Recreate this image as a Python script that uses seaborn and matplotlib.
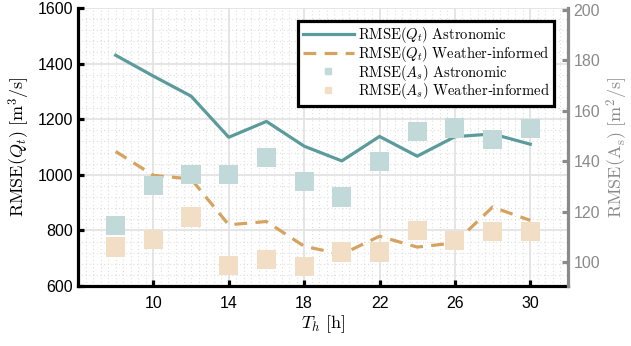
import matplotlib
matplotlib.use("Agg")
import matplotlib.pyplot as plt
from matplotlib.ticker import MultipleLocator
from matplotlib.lines import Line2D
import seaborn as sns
import pandas as pd

# ---- data ----
th = [8, 10, 12, 14, 16, 18, 20, 22, 24, 26, 28, 30]
q_astro = [1430, 1355, 1283, 1135, 1192, 1103, 1050, 1138, 1067, 1137, 1147, 1110]
q_weather = [1084, 998, 985, 820, 832, 743, 714, 779, 740, 755, 884, 836]
a_astro = [114.6, 130.5, 134.8, 134.8, 141.5, 131.8, 125.8, 140.0, 151.7, 153.2, 148.6, 153.0]
a_weather = [106.0, 109.0, 117.9, 98.7, 101.0, 98.4, 104.0, 104.0, 112.6, 108.6, 112.2, 112.2]
x_ticks = [10, 14, 18, 22, 26, 30]
yl_ticks = [600, 800, 1000, 1200, 1400, 1600]
yr_ticks = [100, 120, 140, 160, 180, 200]

df = pd.DataFrame({"th": th, "qa": q_astro, "qw": q_weather, "aa": a_astro, "aw": a_weather})

teal = "#5B9B9B"
tan = "#D5A35F"
teal_l = "#C2D9DA"
tan_l = "#F1DEC5"
gray = "#8A8A8A"

plt.rcParams["mathtext.fontset"] = "cm"
plt.rcParams["font.family"] = ["Liberation Sans", "DejaVu Sans"]

fig = plt.figure(figsize=(6.31, 3.46), dpi=100)
ax = fig.add_axes([0.1236, 0.1734, 0.7765, 0.8035])
ax2 = ax.twinx()

sns.lineplot(data=df, x="th", y="qa", ax=ax, color=teal, lw=2.3, zorder=3)
sns.lineplot(data=df, x="th", y="qw", ax=ax, color=tan, lw=2.3, dashes=False, zorder=3,
             linestyle=(0, (4, 2.6)))

sns.scatterplot(data=df, x="th", y="aa", ax=ax2, color=teal_l, marker="s", s=190,
                edgecolor="none", zorder=4)
sns.scatterplot(data=df, x="th", y="aw", ax=ax2, color=tan_l, marker="s", s=190,
                edgecolor="none", zorder=4)

ax.set_xlim(6, 32)
ax.set_ylim(600, 1600)
ax2.set_ylim(90.5, 200.8)

ax.set_xticks(x_ticks)
ax.set_yticks(yl_ticks)
ax2.set_yticks(yr_ticks)
ax.xaxis.set_minor_locator(MultipleLocator(0.4))
ax.yaxis.set_minor_locator(MultipleLocator(40))

ax.grid(which="major", color="#E3E3E3", lw=1.3)
ax.grid(which="minor", color="#D8D8D8", lw=0.8, linestyle=(0, (0.8, 2.5)))
ax.set_axisbelow(True)

ax.spines["top"].set_visible(False)
ax2.spines["top"].set_visible(False)
ax.spines["right"].set_visible(False)
ax2.spines["left"].set_visible(False)
ax2.spines["bottom"].set_visible(False)
for s in ["left", "bottom"]:
    ax.spines[s].set_linewidth(2.3)
    ax.spines[s].set_color("black")
ax2.spines["right"].set_linewidth(2.3)
ax2.spines["right"].set_color(gray)

ax.tick_params(which="major", direction="in", length=4, width=2.3, labelsize=11.5, colors="black")
ax.tick_params(which="minor", length=0)
ax.tick_params(axis="x", pad=7)
ax2.tick_params(which="major", direction="in", length=4, width=2.3, labelsize=11.5,
                colors=gray, labelcolor=gray, pad=4)
ax2.tick_params(which="minor", length=0)

ax.set_xlabel(r"$T_h\ [\mathrm{h}]$", fontsize=13, labelpad=2)
ax.set_ylabel(r"$\mathrm{RMSE}(Q_t)\ [\mathrm{m}^3/\mathrm{s}]$", fontsize=13, labelpad=4)
ax2.set_ylabel(r"$\mathrm{RMSE}(\mathrm{A_s})\ [\mathrm{m}^2/\mathrm{s}]$", fontsize=13,
               color=gray, labelpad=3)

handles = [
    Line2D([], [], color=teal, lw=2.3),
    Line2D([], [], color=tan, lw=2.3, linestyle=(0, (4, 2.6))),
    Line2D([], [], color=teal_l, marker="s", ms=5, lw=0),
    Line2D([], [], color=tan_l, marker="s", ms=5, lw=0),
]
labels = [
    r"$\mathrm{RMSE}(Q_t)\ \mathrm{Astronomic}$",
    r"$\mathrm{RMSE}(Q_t)\ \mathrm{Weather}$-$\mathrm{informed}$",
    r"$\mathrm{RMSE}(A_s)\ \mathrm{Astronomic}$",
    r"$\mathrm{RMSE}(A_s)\ \mathrm{Weather}$-$\mathrm{informed}$",
]
leg = ax2.legend(handles, labels, loc="upper right", bbox_to_anchor=(0.972, 0.955),
                 fontsize=10.5, frameon=True, fancybox=False, framealpha=1,
                 edgecolor="black", handlelength=3.5, handletextpad=0.3,
                 labelspacing=-0.08, borderpad=0.3, borderaxespad=0)
leg.get_frame().set_linewidth(2.3)
leg.set_zorder(10)

fig.savefig("out.png", dpi=100)
